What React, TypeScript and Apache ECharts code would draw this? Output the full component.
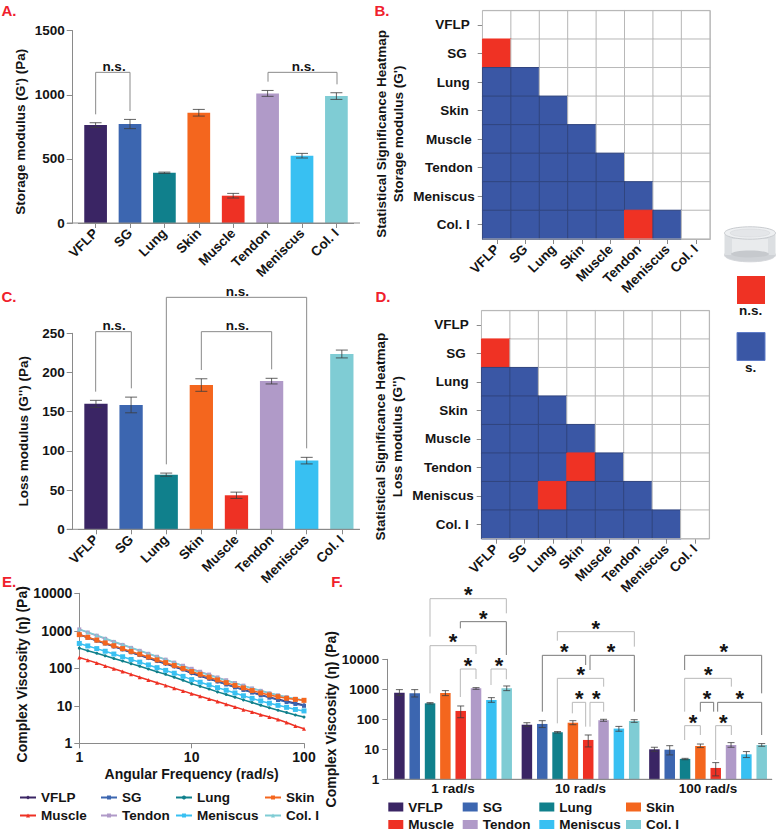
import React, { useEffect, useRef } from "react";
import * as echarts from "echarts";

const tissues = ["VFLP", "SG", "Lung", "Skin", "Muscle", "Tendon", "Meniscus", "Col. I"];
const tissueColors = ["#3a2564", "#3c66b0", "#10808c", "#f4661e", "#ee3124", "#b09ac8", "#38c0f2", "#7fccd4"];

const storageValues = [764, 772, 392, 860, 213, 1011, 525, 990];
const storageErrors = [18, 36, 5, 26, 18, 23, 18, 26];
const lossValues = [160, 158.6, 69.7, 184, 43.4, 189, 87.6, 223.6];
const lossErrors = [4.5, 10, 2, 8, 4, 3.6, 4.2, 5];

// 1 = significant, 2 = not significant; lower triangle only
const storageSig = [[], [2], [1, 1], [1, 1, 1], [1, 1, 1, 1], [1, 1, 1, 1, 1], [1, 1, 1, 1, 1, 1], [1, 1, 1, 1, 1, 2, 1]];
const lossSig = [[], [2], [1, 1], [1, 1, 1], [1, 1, 1, 1], [1, 1, 1, 2, 1], [1, 1, 2, 1, 1, 1], [1, 1, 1, 1, 1, 1, 1]];

const frequencies = [1, 1.19, 1.43, 1.7, 2.03, 2.43, 2.89, 3.45, 4.12, 4.92, 5.87, 7, 8.38, 10, 11.9, 14.3, 17, 20.3, 24.3, 28.9, 34.5, 41.2, 49.2, 58.7, 70, 83.8, 100];
const etaVFLP = [800, 660, 545, 455, 378, 315, 265, 222, 186, 155, 131, 110, 91, 73, 62, 52, 44.5, 37.5, 31.5, 27, 23, 19.5, 17, 15, 13.2, 11.7, 10.5];
const etaSG = [790, 655, 550, 460, 385, 320, 268, 226, 190, 160, 135, 113, 94, 76, 64, 53, 44.5, 37, 31, 26.5, 22.5, 19, 16.5, 14.3, 12.6, 11.2, 10];
const etaLung = [345, 295, 252, 215, 183, 156, 133, 113, 96, 81, 69, 58, 48, 39, 33, 28, 23.5, 20, 17, 14.4, 12.2, 10.4, 8.9, 7.6, 6.6, 5.7, 5];
const etaSkin = [790, 670, 565, 475, 400, 335, 282, 238, 200, 168, 142, 119, 99, 82, 69, 58, 49, 41.5, 35, 30, 25.5, 22, 19.5, 17.5, 15.8, 14.8, 14];
const etaMuscle = [195, 165, 138, 116, 97, 82, 69, 58, 49, 41, 35, 29.5, 25, 21, 18, 15.2, 13, 11, 9.3, 7.9, 6.8, 5.8, 5, 4.3, 3.6, 2.9, 2.45];
const etaTendon = [1090, 900, 740, 610, 505, 420, 350, 292, 243, 203, 170, 142, 117, 97, 81, 68, 57, 48, 40.5, 34.5, 29, 25, 21.5, 19, 17, 15.3, 14];
const etaMeniscus = [460, 395, 335, 285, 240, 203, 172, 146, 123, 104, 88, 74, 61, 50, 42.5, 36, 30.5, 26, 22, 18.5, 15.8, 13.5, 11.7, 10.3, 9.1, 8, 7.3];
const etaCol = [1100, 915, 760, 630, 520, 430, 358, 298, 248, 207, 172, 143, 113, 91, 78, 66, 56, 47.5, 40.5, 34.5, 29.5, 25.5, 22, 19.5, 17.3, 15.5, 14];
const etaSeries = [etaVFLP, etaSG, etaLung, etaSkin, etaMuscle, etaTendon, etaMeniscus, etaCol];

const rates = ["1 rad/s", "10 rad/s", "100 rad/s"];
const etaAt1 = [774, 736, 341, 755, 190, 1080, 441, 1080];
const etaAt1Hi = [975, 975, 360, 903, 278, 1136, 527, 1291];
const etaAt1Lo = [630, 555, 325, 615, 113, 1000, 369, 903];
const etaAt10 = [66, 70, 37, 77, 20.5, 93, 49, 88];
const etaAt10Hi = [77, 90, 39, 90, 30, 100, 58, 97];
const etaAt10Lo = [58, 53, 35, 66, 12, 86, 40, 79];
const etaAt100 = [10, 9.7, 4.8, 12.9, 2.39, 13.9, 6.8, 13.9];
const etaAt100Hi = [11.7, 13.2, 5, 15, 3.6, 16.7, 8.4, 15.5];
const etaAt100Lo = [8.6, 6.5, 4.5, 11.4, 1.3, 11.7, 5.3, 12.6];

const FF = '"Liberation Sans", Arial, sans-serif';
const INK = "#141414";
const AXIS = "#8a8a8a";
const RED = "#ef3224";
const BLUE = "#3a57a5";
const LETTER = "#f0202c";
const FS = 13.5;

const baseText = { fontFamily: FF, fontWeight: "bold" as const, fontSize: FS, color: INK };

const text = (s: string, x: number, y: number, extra: any = {}) => ({
  type: "text", x, y, silent: true, z: 20,
  style: { text: s, fontFamily: FF, fontWeight: "bold", fontSize: FS, fill: INK, align: "center", verticalAlign: "middle", ...extra },
});
const poly = (points: number[][], stroke = AXIS, lineWidth = 1) => ({
  type: "polyline", silent: true, z: 15, shape: { points }, style: { stroke, fill: "none", lineWidth },
});
const bracket = (toPx: (x: number, y: number) => number[], x1: number, b1: number, x2: number, b2: number, top: number, stroke = AXIS) =>
  poly([toPx(x1, b1), toPx(x1, top), toPx(x2, top), toPx(x2, b2)], stroke);

const errorBarSeries = (name: string, axisIndex: number, rows: number[][], cap: number, shift = 0) => ({
  type: "custom", name, xAxisIndex: axisIndex, yAxisIndex: axisIndex, clip: false, silent: true, z: 5,
  encode: { x: 0, y: [1, 2] },
  data: rows,
  renderItem: (_: any, api: any) => {
    const c = api.value(0);
    const hi = api.coord([c, api.value(2)]);
    const lo = api.coord([c, api.value(1)]);
    const x = hi[0] + shift;
    const style = { stroke: "#3c3c3c", lineWidth: 1, opacity: 0.8 };
    return {
      type: "group",
      children: [
        { type: "line", shape: { x1: x, y1: hi[1], x2: x, y2: lo[1] }, style },
        { type: "line", shape: { x1: x - cap / 2, y1: hi[1], x2: x + cap / 2, y2: hi[1] }, style },
        { type: "line", shape: { x1: x - cap / 2, y1: lo[1], x2: x + cap / 2, y2: lo[1] }, style },
      ],
    };
  },
});

const catX = (i: number) => ({
  type: "category", gridIndex: i, data: tissues,
  axisLine: { show: true, lineStyle: { color: AXIS } },
  axisTick: { show: true, length: 5, alignWithLabel: true, lineStyle: { color: AXIS } },
  axisLabel: { ...baseText, rotate: 45, margin: 8, interval: 0 },
});
const valY = (i: number, max: number, step: number, name: string, gap: number, padding: number[], offset = 5.7) => ({
  type: "value", gridIndex: i, min: 0, max, interval: step, offset,
  name, nameLocation: "middle", nameGap: gap, nameTextStyle: { ...baseText, padding },
  splitLine: { show: false },
  axisLine: { show: true, lineStyle: { color: AXIS } },
  axisTick: { show: true, length: 6, lineStyle: { color: AXIS } },
  axisLabel: { ...baseText, margin: 8, formatter: (v: number) => String(v) },
});

const heatPads: Record<string, number> = { VFLP: 5, SG: 8, Lung: 5, Skin: 6, Muscle: 3, Tendon: 2, Meniscus: 0, "Col. I": 5 };
const heatRich: any = {};
tissues.forEach((_, i) => { heatRich["p" + i] = { ...baseText, padding: [0, heatPads[tissues[i]], 0, 0] }; });
const heatAxes = (i: number, name: string, padding: number[]) => ({
  x: {
    type: "category", gridIndex: i, data: tissues,
    axisLine: { show: true, lineStyle: { color: AXIS } },
    axisTick: { show: true, length: 5, alignWithLabel: true, lineStyle: { color: AXIS } },
    axisLabel: { ...baseText, rotate: 45, margin: 8, interval: 0 },
    splitLine: { show: false },
  },
  y: {
    type: "category", gridIndex: i, data: tissues, inverse: true,
    name, nameLocation: "middle", nameGap: 76, nameTextStyle: { ...baseText, lineHeight: 17, padding },
    axisLine: { show: false },
    axisTick: { show: true, length: 5, alignWithLabel: true, lineStyle: { color: AXIS } },
    axisLabel: {
      ...baseText, margin: 8, interval: 0,
      formatter: (v: string) => `{p${tissues.indexOf(v)}|${v}}`,
      rich: heatRich,
    },
    splitLine: { show: false },
  },
});
const heatSeries = (i: number, rows: number[][]) => {
  const data: any[] = [];
  tissues.forEach((_, r) => {
    tissues.forEach((__, c) => {
      const v = rows[r][c] ?? 0;
      const borderColor = v === 0 ? "#b8b8b8" : v === 1 ? "#30457f" : RED;
      data.push({ value: [c, r, v], itemStyle: { borderColor, borderWidth: 1 } });
    });
  });
  return { type: "heatmap", xAxisIndex: i, yAxisIndex: i, data, silent: true, z: 2 };
};

const barSeries = (i: number, values: number[], width: number) => ({
  type: "bar", xAxisIndex: i, yAxisIndex: i, barWidth: width, silent: true,
  data: values.map((v, k) => ({ value: v, itemStyle: { color: tissueColors[k] } })),
});

const legendCol = (left: number, top: number, names: string[], extra: any) => ({
  left, top, padding: 0, orient: "vertical", selectedMode: false, data: names,
  textStyle: { ...baseText }, ...extra,
});

function buildMain(): any {
  const hA = heatAxes(1, "Statistical Significance Heatmap\nStorage modulus (G')", [0, 18, 0, 0]);
  const hD = heatAxes(3, "Statistical Significance Heatmap\nLoss modulus (G'')", [0, 24, 0, 0]);
  const bandF = 15.33;
  const fGroups = [
    [etaAt1, etaAt1Lo, etaAt1Hi],
    [etaAt10, etaAt10Lo, etaAt10Hi],
    [etaAt100, etaAt100Lo, etaAt100Hi],
  ];
  const fBars = tissues.map((name, k) => ({
    type: "bar", name, xAxisIndex: 4, yAxisIndex: 4, barWidth: 10.5, barGap: "46%", silent: true,
    itemStyle: { color: tissueColors[k] },
    data: fGroups.map((g) => g[0][k]),
  }));
  const fErr = tissues.map((name, k) =>
    errorBarSeries("err " + name, 4, fGroups.map((g, gi) => [gi, g[1][k], g[2][k]]), 7, (k - 3.5) * bandF)
  );

  const za = (x: number, y: number) => [x / 3, y / 3];
  const zc = (x: number, y: number) => [x / 3, y / 3 + 280];
  const zf = (x: number, y: number) => [x / 3 + 330, y / 3 + 570];
  const DARK = "#7a7a7a";
  const LIGHT = "#b9b9b9";
  const fBrackets: any[] = [
    [300, 200, 529, 130, 86, LIGHT, 415, 68],
    [391, 175, 529, 255, 155, DARK, 460, 138],
    [300, 370, 438, 252, 227, LIGHT, 369, 208],
    [391, 381, 438, 327, 297, LIGHT, 414, 279],
    [483, 345, 529, 328, 297, LIGHT, 507, 279],
    [682, 212, 913, 230, 185, LIGHT, 797, 168],
    [637, 425, 767, 285, 256, DARK, 703, 238],
    [780, 300, 913, 425, 256, DARK, 843, 238],
    [682, 460, 821, 350, 325, LIGHT, 752, 308],
    [727, 430, 767, 470, 397, LIGHT, 748, 379],
    [780, 470, 821, 425, 397, LIGHT, 799, 379],
    [1064, 300, 1295, 370, 256, DARK, 1181, 238],
    [1064, 425, 1204, 350, 325, LIGHT, 1135, 308],
    [1111, 425, 1151, 425, 397, DARK, 1131, 379],
    [1163, 425, 1295, 495, 397, DARK, 1229, 379],
    [1064, 510, 1111, 495, 467, LIGHT, 1089, 450],
    [1157, 570, 1204, 495, 467, LIGHT, 1180, 450],
  ];
  const graphics: any[] = [
    text("A.", 9, 10, { fill: LETTER, fontSize: 15 }),
    text("B.", 382, 10, { fill: LETTER, fontSize: 15 }),
    text("C.", 9, 296, { fill: LETTER, fontSize: 15 }),
    text("D.", 383, 296, { fill: LETTER, fontSize: 15 }),
    text("E.", 9, 581, { fill: LETTER, fontSize: 15 }),
    text("F.", 337, 581, { fill: LETTER, fontSize: 15 }),
    poly([[67, 223], [360, 223]]),
    poly([[67, 529.3], [360, 529.3]]),
    poly([[387.3, 779.3], [772, 779.3]]),
    poly([[482.7, 10.7], [710, 10.7], [710, 239], [482.7, 239]], "#b8b8b8"),
    poly([[481.7, 310.7], [709.3, 310.7], [709.3, 538.7], [481.7, 538.7]], "#b8b8b8"),
    bracket(za, 287, 343, 390, 333, 217),
    text("n.s.", ...(za(342, 198) as [number, number])),
    bracket(za, 804, 245, 1011, 253, 217),
    text("n.s.", ...(za(910, 198) as [number, number])),
    bracket(zc, 287, 335, 394, 325, 155),
    text("n.s.", ...(zc(342, 137) as [number, number])),
    bracket(zc, 604, 270, 815, 268, 155),
    text("n.s.", ...(zc(712, 137) as [number, number])),
    bracket(zc, 499, 553, 920, 505, 52),
    text("n.s.", ...(zc(712, 33) as [number, number])),
    { type: "rect", silent: true, z: 15, shape: { x: 737, y: 276, width: 28, height: 28 }, style: { fill: RED } },
    text("n.s.", 750.7, 310),
    { type: "rect", silent: true, z: 15, shape: { x: 737, y: 332.5, width: 28, height: 28 }, style: { fill: BLUE, stroke: "#5f7cc8", lineWidth: 1 } },
    text("s.", 750.7, 367),
    // cup
    { type: "ellipse", silent: true, z: 15, shape: { cx: 750, cy: 255, rx: 25.5, ry: 6.8 }, style: { fill: "#cfd2d6", stroke: "#d4d6da" } },
    { type: "rect", silent: true, z: 15, shape: { x: 724.5, y: 233, width: 51, height: 22 }, style: { fill: "#dcdfe2" } },
    { type: "rect", silent: true, z: 15, shape: { x: 732, y: 239, width: 36, height: 15 }, style: { fill: "#e9ebed" } },
    { type: "ellipse", silent: true, z: 15, shape: { cx: 750, cy: 254, rx: 19, ry: 3.5 }, style: { fill: "#c6c9cd" } },
    { type: "ellipse", silent: true, z: 15, shape: { cx: 750, cy: 233, rx: 25.5, ry: 6.2 }, style: { fill: "#eef0f2", stroke: "#c8cbcf", lineWidth: 1 } },
    { type: "ellipse", silent: true, z: 15, shape: { cx: 750, cy: 233, rx: 20, ry: 4 }, style: { fill: "#e4e6e9", stroke: "#d6d8db", lineWidth: 0.6 } },
  ];
  fBrackets.forEach(([x1, b1, x2, b2, top, col, sx, sy]) => {
    graphics.push(bracket(zf, x1, b1, x2, b2, top, col));
    const p = zf(sx, sy);
    graphics.push(text("*", p[0], p[1] + 2, { fontSize: 22 }));
  });

  return {
    animation: false,
    visualMap: {
      type: "piecewise", show: false, seriesIndex: [2, 5], dimension: 2,
      pieces: [
        { value: 0, color: "#ffffff" },
        { value: 1, color: BLUE },
        { value: 2, color: RED },
      ],
    },
    grid: [
      { left: 78.4, top: 30.7, width: 275.2, height: 192.3 },
      { left: 482.7, top: 10.7, width: 227.3, height: 228.3 },
      { left: 78.4, top: 333.3, width: 281, height: 196 },
      { left: 481.7, top: 310.7, width: 227.6, height: 228 },
      { left: 389.3, top: 659.3, width: 382.5, height: 120 },
    ],
    xAxis: [
      catX(0),
      hA.x,
      catX(2),
      hD.x,
      {
        type: "category", gridIndex: 4, data: rates,
        axisLine: { show: true, lineStyle: { color: AXIS } }, axisTick: { show: false },
        axisLabel: { ...baseText, margin: 2, interval: 0 },
      },
    ],
    yAxis: [
      valY(0, 1500, 500, "Storage modulus (G') (Pa)", 45, [0, 10, 0, 0]),
      hA.y,
      valY(2, 250, 50, "Loss modulus (G'') (Pa)", 42, [14, 0, 0, 0]),
      hD.y,
      {
        type: "log", logBase: 10, gridIndex: 4, min: 1, max: 10000, offset: 2,
        name: "Complex Viscosity (η) (Pa)", nameLocation: "middle", nameGap: 38,
        nameTextStyle: { ...baseText, fontSize: 14, padding: [50, 0, 0, 0] },
        splitLine: { show: false }, minorTick: { show: false },
        axisLine: { show: true, lineStyle: { color: AXIS } },
        axisTick: { show: true, length: 5, lineStyle: { color: AXIS } },
        axisLabel: { ...baseText, margin: 8, formatter: (v: number) => String(v) },
      },
    ],
    legend: [
      legendCol(388.3, 800, ["VFLP", "Muscle"], { itemWidth: 15, itemHeight: 9, itemGap: 3.5, icon: "rect" }),
      legendCol(462.7, 800, ["SG", "Tendon"], { itemWidth: 15, itemHeight: 9, itemGap: 3.5, icon: "rect" }),
      legendCol(539.3, 800, ["Lung", "Meniscus"], { itemWidth: 15, itemHeight: 9, itemGap: 3.5, icon: "rect" }),
      legendCol(626, 800, ["Skin", "Col. I"], { itemWidth: 15, itemHeight: 9, itemGap: 3.5, icon: "rect" }),
    ],
    series: [
      barSeries(0, storageValues, 22.7),
      errorBarSeries("err G1", 0, storageValues.map((v, i) => [i, v - storageErrors[i], v + storageErrors[i]]), 12),
      heatSeries(1, storageSig),
      barSeries(2, lossValues, 23.3),
      errorBarSeries("err G2", 2, lossValues.map((v, i) => [i, v - lossErrors[i], v + lossErrors[i]]), 12),
      heatSeries(3, lossSig),
      ...fBars,
      ...fErr,
    ],
    graphic: graphics,
  };
}

const lineSymbols = ["diamond", "rect", "circle", "rect", "triangle", "rect", "rect", "triangle"];
const lineSymbolSizes = [4, 4, 3, 5, 4, 4, 5, 4];
const lineOrder = [2, 2, 2, 4, 2, 3, 2, 3];

function buildE(): any {
  return {
    animation: false,
    grid: { left: 79.3, top: 593.3, width: 224.7, height: 150 },
    xAxis: {
      type: "log", logBase: 10, min: 1, max: 100,
      name: "Angular Frequency (rad/s)", nameLocation: "middle", nameGap: 24,
      nameTextStyle: { ...baseText, fontSize: 14 },
      splitLine: { show: false }, minorTick: { show: false },
      axisLine: { show: true, lineStyle: { color: AXIS } },
      axisTick: { show: true, length: 5, lineStyle: { color: AXIS } },
      axisLabel: { ...baseText, fontSize: 14, margin: 7, formatter: (v: number) => String(v) },
    },
    yAxis: {
      type: "log", logBase: 10, min: 1, max: 10000,
      name: "Complex Viscosity (η) (Pa)", nameLocation: "middle", nameGap: 49,
      nameTextStyle: { ...baseText, fontSize: 14, padding: [0, 12, 0, 0] },
      splitLine: { show: false }, minorTick: { show: false },
      axisLine: { show: true, lineStyle: { color: AXIS } },
      axisTick: { show: true, length: 5, lineStyle: { color: AXIS } },
      axisLabel: { ...baseText, fontSize: 14, margin: 7, formatter: (v: number) => String(v) },
    },
    legend: [
      legendCol(19, 790.5, ["VFLP", "Muscle"], { itemWidth: 16, itemHeight: 5, itemGap: 4 }),
      legendCol(100, 790.5, ["SG", "Tendon"], { itemWidth: 16, itemHeight: 5, itemGap: 4 }),
      legendCol(175, 790.5, ["Lung", "Meniscus"], { itemWidth: 16, itemHeight: 5, itemGap: 4 }),
      legendCol(264, 790.5, ["Skin", "Col. I"], { itemWidth: 16, itemHeight: 5, itemGap: 4 }),
    ],
    series: tissues.map((name, k) => ({
      type: "line", name, silent: true, clip: false, z: lineOrder[k],
      symbol: lineSymbols[k], symbolSize: lineSymbolSizes[k],
      itemStyle: { color: tissueColors[k] },
      lineStyle: { color: tissueColors[k], width: 1.5 },
      data: frequencies.map((f, i) => [f, etaSeries[k][i]]),
    })),
  };
}

export default function App() {
  const mainRef = useRef<HTMLDivElement>(null);
  const eRef = useRef<HTMLDivElement>(null);
  useEffect(() => {
    const main = echarts.init(mainRef.current!, undefined, { renderer: "svg" });
    const e = echarts.init(eRef.current!, undefined, { renderer: "svg" });
    main.setOption(buildMain());
    e.setOption(buildE());
    return () => {
      main.dispose();
      e.dispose();
    };
  }, []);
  const box: React.CSSProperties = { position: "absolute", left: 0, top: 0, width: 781, height: 836 };
  return (
    <div style={{ ...box, background: "#fff", overflow: "hidden" }}>
      <div ref={mainRef} style={box} />
      <div ref={eRef} style={box} />
    </div>
  );
}
